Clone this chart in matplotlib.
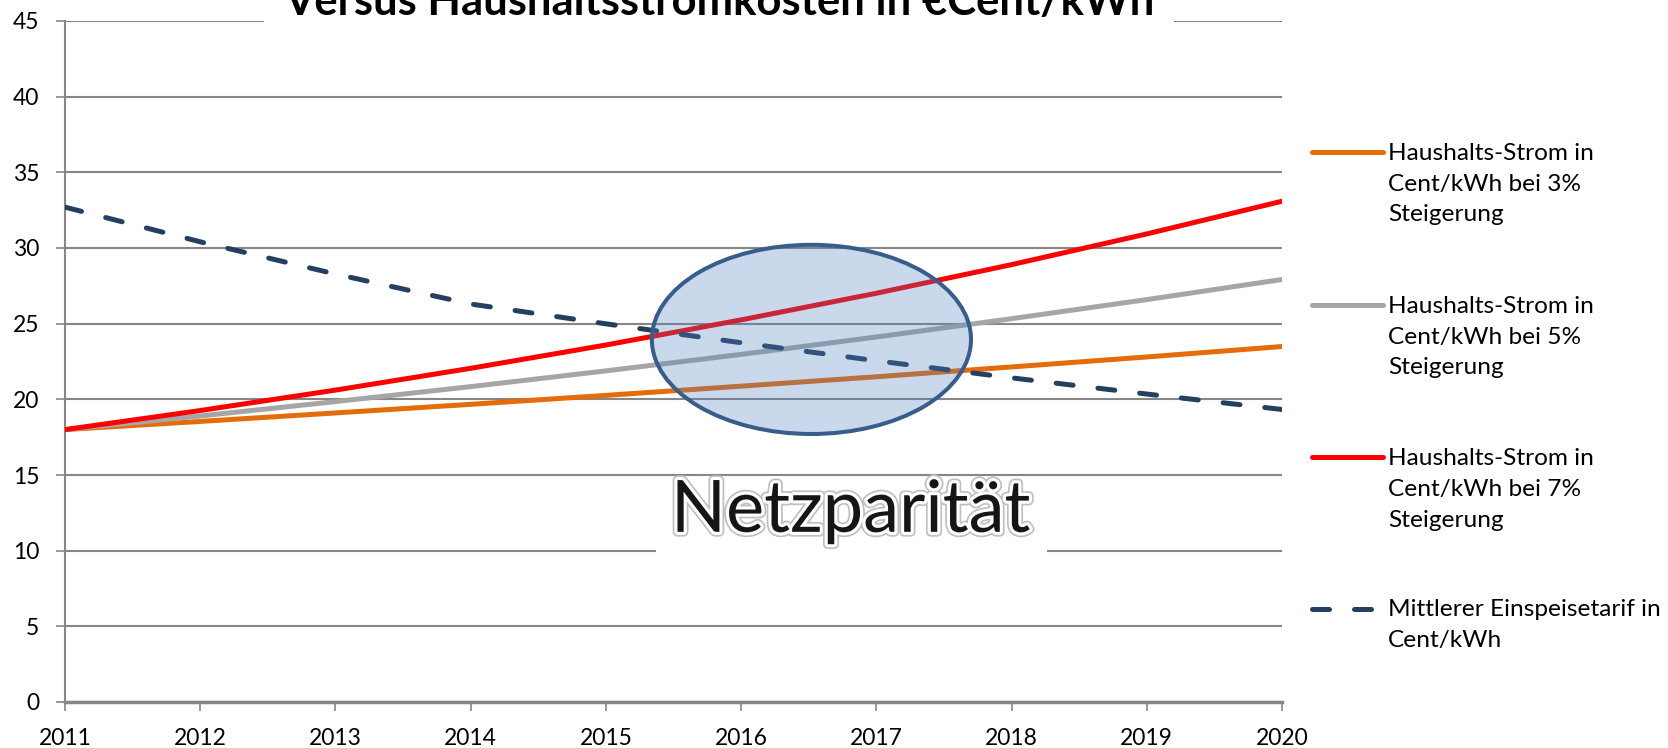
import matplotlib.pyplot as plt
from matplotlib.patches import Ellipse, Rectangle
from matplotlib.lines import Line2D
import matplotlib.patheffects as pe

plt.rcParams['font.family'] = ['Lato', 'DejaVu Sans']

# Werte aus dem Diagramm
jahre = [2011, 2012, 2013, 2014, 2015, 2016, 2017, 2018, 2019, 2020]
strom_3 = [18.0, 18.54, 19.10, 19.67, 20.26, 20.87, 21.49, 22.14, 22.80, 23.49]
strom_5 = [18.0, 18.90, 19.85, 20.84, 21.88, 22.97, 24.12, 25.33, 26.59, 27.92]
strom_7 = [18.0, 19.26, 20.61, 22.05, 23.59, 25.25, 27.01, 28.90, 30.93, 33.09]
einspeisung = [32.7, 30.41, 28.28, 26.30, 24.99, 23.74, 22.55, 21.42, 20.35, 19.33]

labels = ['Haushalts-Strom in\nCent/kWh bei 3%\nSteigerung',
          'Haushalts-Strom in\nCent/kWh bei 5%\nSteigerung',
          'Haushalts-Strom in\nCent/kWh bei 7%\nSteigerung',
          'Mittlerer Einspeisetarif in\nCent/kWh']
farben = ['#e46c0a', '#a6a6a6', '#ff0000', '#243f60']
y_ticks = [0, 5, 10, 15, 20, 25, 30, 35, 40, 45]

grau = '#868686'
lw = 3.6

fig = plt.figure(figsize=(16.68, 7.48), dpi=100)
ax = fig.add_axes([65 / 1668, 46 / 748, 1217 / 1668, 681 / 748])

serien = [strom_3, strom_5, strom_7]
for werte, farbe in zip(serien, farben[:3]):
    ax.plot(jahre, werte, color=farbe, lw=lw, solid_capstyle='round', zorder=3)
ax.plot(jahre, einspeisung, color=farben[3], lw=lw, dashes=(3.4, 5),
        dash_capstyle='round', zorder=3)

# Ellipse fuer die Netzparitaet
ax.add_patch(Ellipse((2016.52, 23.96), 2.36, 12.5, facecolor='#4f81bd', alpha=0.3,
                     edgecolor='none', zorder=4))
ax.add_patch(Ellipse((2016.52, 23.96), 2.36, 12.5, facecolor='none',
                     edgecolor='#385d8a', lw=2.9, zorder=5))

# weisses Textfeld (verdeckt nur die 10er-Linie)
ax.add_patch(Rectangle((2015.37, 9.0), 2.89, 5.7, facecolor='white',
                       edgecolor='none', zorder=2))
ax.text(2016.81, 12.6, 'Netzparität', fontsize=52, color='#151515',
        ha='center', va='center', zorder=6,
        path_effects=[pe.Stroke(linewidth=7, foreground='#c0c0c0'),
                      pe.Stroke(linewidth=4.5, foreground='white'),
                      pe.Normal()])

ax.set_xlim(2011, 2020)
ax.set_ylim(0, 45)
ax.set_xticks(jahre)
ax.set_yticks(y_ticks)
ax.yaxis.grid(True, color=grau, lw=1.5)
ax.set_axisbelow(True)
for s in ['top', 'right']:
    ax.spines[s].set_visible(False)
for s in ['left', 'bottom']:
    ax.spines[s].set_color(grau)
    ax.spines[s].set_linewidth(1.5)
ax.spines['bottom'].set_linewidth(2.5)
ax.tick_params(axis='both', direction='out', length=6.5, width=1.2, color=grau,
               labelsize=16.5, pad=12)

# Titel (oben abgeschnitten wie im Original)
fig.text(719 / 1668, 1 - 15 / 748, 'Versus Haushaltsstromkosten in €Cent/kWh',
         fontsize=31.4, fontweight='bold', ha='center', va='baseline',
         bbox=dict(boxstyle='square,pad=0.45', facecolor='white', edgecolor='none'))

# Legende
leg_y = [152, 305, 457.5, 608.5]
for i, (lab, farbe) in enumerate(zip(labels, farben)):
    y = 1 - leg_y[i] / 748
    if i == 3:
        h = Line2D([1312 / 1668, 1383 / 1668], [y, y], transform=fig.transFigure,
                   color=farbe, lw=lw, dashes=(3.4, 5), dash_capstyle='round')
    else:
        h = Line2D([1312 / 1668, 1383 / 1668], [y, y], transform=fig.transFigure,
                   color=farbe, lw=lw, solid_capstyle='round')
    fig.add_artist(h)
    fig.text(1388 / 1668, y + 9 / 748, lab, fontsize=17.6, ha='left', va='top',
             linespacing=1.56)

plt.savefig('out.png', dpi=100)
